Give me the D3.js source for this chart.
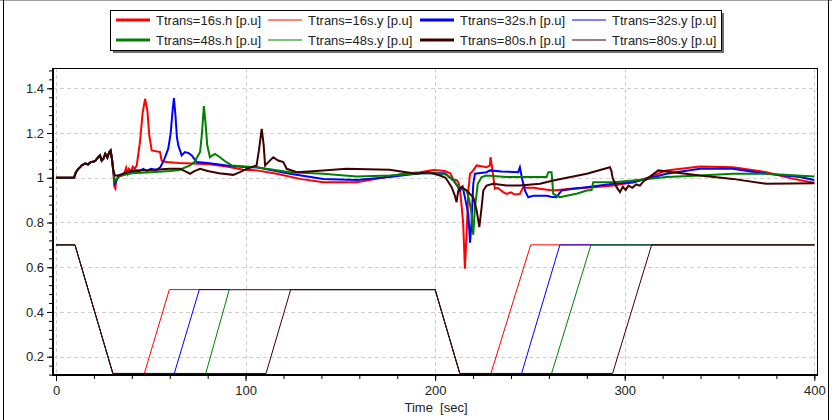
<!DOCTYPE html>
<html>
<head>
<meta charset="utf-8">
<script src="https://cdn.jsdelivr.net/npm/d3@7"></script>
<style>
  html, body { margin: 0; padding: 0; background: #ffffff; }
  svg { display: block; }
  text { font-family: "Liberation Sans", Arial, sans-serif; fill: #222; }
</style>
</head>
<body>
<div id="chart"></div>
<script>
// ---- data -------------------------------------------------------------
const xTicks = [0, 100, 200, 300, 400];
const yTicks = [0.2, 0.4, 0.6, 0.8, 1.0, 1.2, 1.4];

const seriesNames = [
  "Ttrans=16s.h [p.u]", "Ttrans=16s.y [p.u]", "Ttrans=32s.h [p.u]", "Ttrans=32s.y [p.u]",
  "Ttrans=48s.h [p.u]", "Ttrans=48s.y [p.u]", "Ttrans=80s.h [p.u]", "Ttrans=80s.y [p.u]"
];
const seriesColors = ["#ff0000", "#ff0000", "#0000ff", "#0000ff", "#008000", "#008000", "#400000", "#400000"];

// head (h) common to every case until the first transition
const hStart = [
  [0, 1.0], [9.5, 1.0], [10.5, 1.025], [11.8, 1.04], [13.5, 1.055], [15.3, 1.063], [17, 1.06],
  [18.3, 1.07], [20.6, 1.074], [22.3, 1.092], [23.2, 1.10], [24.1, 1.077], [25, 1.085],
  [26, 1.107], [27.1, 1.09], [28.1, 1.115], [28.8, 1.122], [29.5, 1.085], [30.2, 1.033]
];

const h16 = [
  [30.8, 0.96], [31.3, 0.952], [31.8, 0.99], [33, 1.005], [35, 1.01], [36, 1.02], [37, 1.045],
  [37.8, 1.02], [38.5, 1.04], [39.5, 1.028], [40.5, 1.05], [41.5, 1.04], [42.6, 1.055],
  [44.3, 1.16], [45.7, 1.29], [47, 1.353], [48.2, 1.30], [49.2, 1.19], [50.5, 1.122],
  [54.9, 1.115], [55.7, 1.077], [58, 1.07], [65, 1.066], [75, 1.063], [81, 1.06], [90, 1.05],
  [98.8, 1.036], [105.8, 1.033], [116.4, 1.018], [128.7, 0.995], [141, 0.98], [158.6, 0.98],
  [169, 0.995], [183, 1.018], [192, 1.025], [199, 1.035], [202.5, 1.033], [205, 1.03],
  [208, 1.02], [209.6, 0.99], [211.3, 0.99], [212.2, 0.98], [213, 0.958], [214, 0.87],
  [214.8, 0.794], [215.7, 0.593], [216.6, 0.75], [217.5, 0.943], [218.4, 1.018], [220.1, 1.033],
  [221.9, 1.055], [225, 1.05], [227.1, 1.047], [228.9, 1.055], [229.2, 1.092], [229.8, 1.06],
  [231.5, 0.951], [233, 0.955], [235.9, 0.936], [237.7, 0.928], [240, 0.935], [242, 0.925],
  [244.7, 0.928], [246.5, 0.958], [248.3, 0.955], [252, 0.955], [256, 0.95], [262.3, 0.943],
  [271.1, 0.951], [283.4, 0.958], [294, 0.965], [304.5, 0.98], [312, 1.0], [322, 1.033],
  [339.7, 1.05], [357.2, 1.047], [374.8, 1.025], [388.9, 0.995], [400, 0.978]
];

const h32 = [
  [31, 0.975], [31.8, 0.985], [33, 1.01], [36, 1.015], [40, 1.025], [44, 1.03], [46, 1.04],
  [48, 1.03], [50, 1.04], [53, 1.035], [55, 1.047], [57, 1.08], [59.2, 1.13], [60.5, 1.2],
  [61.5, 1.3], [62.2, 1.356], [63, 1.28], [63.8, 1.18], [64.5, 1.145], [65.5, 1.12],
  [66.3, 1.1], [68, 1.115], [70, 1.11], [71.6, 1.10], [74.2, 1.07], [80, 1.066], [90, 1.055],
  [100.6, 1.047], [105.8, 1.047], [123.4, 1.018], [141, 0.995], [158.6, 0.99], [176, 1.003],
  [192, 1.02], [200, 1.02], [205, 1.02], [209.6, 0.988], [212, 0.96], [213, 0.943],
  [214.5, 0.96], [216, 0.9], [217.5, 0.839], [218.4, 0.71], [219.2, 0.80], [220.1, 0.973],
  [221, 1.018], [227.1, 1.025], [228.9, 1.033], [235, 1.028], [243.8, 1.025], [244.7, 1.047],
  [246, 0.99], [247.5, 0.94], [249.1, 0.913], [252, 0.92], [258.8, 0.92], [261, 0.915],
  [264, 0.913], [266.7, 0.943], [272, 0.95], [279.9, 0.958], [294, 0.973], [304.5, 0.98],
  [322, 1.018], [339.7, 1.04], [357, 1.04], [374.8, 1.018], [392.4, 1.003], [400, 0.99]
];

const h48 = [
  [31, 0.985], [32, 0.995], [34, 1.01], [40, 1.02], [50, 1.025], [60, 1.03], [65, 1.035],
  [70.7, 1.055], [73, 1.07], [76, 1.115], [77, 1.2], [78, 1.32], [78.8, 1.25], [79.8, 1.145],
  [81.2, 1.092], [82.5, 1.1], [83.9, 1.107], [86.5, 1.092], [89, 1.075], [92.7, 1.055],
  [100, 1.05], [105.8, 1.047], [123.4, 1.025], [141, 1.018], [158.6, 1.006], [176, 1.01],
  [192, 1.02], [200, 1.02], [206, 1.015], [210, 0.985], [213, 0.951], [216.6, 0.943],
  [218, 0.9], [219.2, 0.839], [220.1, 0.745], [221, 0.868], [222.5, 0.973], [224.5, 1.003],
  [227, 1.01], [237.7, 1.003], [255.3, 1.003], [258.8, 1.003], [259.7, 1.025], [261.4, 1.025],
  [262.3, 0.928], [265.8, 0.913], [269.4, 0.92], [275, 0.93], [280, 0.943], [282.5, 0.945],
  [283.4, 0.98], [294, 0.98], [304.5, 0.988], [322, 1.003], [339.7, 1.01], [357, 1.018],
  [374.8, 1.018], [400, 1.006]
];

const h80 = [
  [31.1, 1.01], [33, 1.01], [36, 1.02], [40.8, 1.033], [50, 1.035], [60, 1.04], [65.4, 1.04],
  [68, 1.03], [70.7, 1.018], [73, 1.03], [76, 1.04], [80, 1.03], [86, 1.02], [93.5, 1.013],
  [97, 1.025], [100.6, 1.04], [105.8, 1.055], [107, 1.12], [108.5, 1.219], [109.5, 1.15],
  [110.3, 1.055], [112, 1.07], [114.6, 1.092], [117.2, 1.077], [119.9, 1.07], [121.7, 1.04],
  [127, 1.025], [141, 1.033], [153, 1.04], [176, 1.036], [190, 1.018], [197, 1.025],
  [202.5, 1.01], [205.5, 1.0], [208.7, 0.958], [210.4, 0.92], [211.3, 0.891], [212.2, 0.943],
  [213.9, 0.958], [216.6, 0.943], [220.1, 0.913], [221.9, 0.854], [223.3, 0.779],
  [224.5, 0.868], [225.4, 0.943], [227.1, 0.965], [230.6, 0.973], [237.7, 0.965],
  [244.7, 0.965], [255.3, 0.973], [262.3, 0.988], [280, 1.018], [292.2, 1.047], [293, 1.03],
  [293.6, 1.0], [295.7, 0.958], [297.5, 0.936], [299, 0.96], [300.5, 0.945], [302, 0.965],
  [304, 0.955], [306, 0.97], [308, 0.965], [310, 0.985], [313, 1.003], [317.7, 1.033],
  [325.6, 1.025], [339.7, 1.01], [357, 0.995], [374.8, 0.973], [400, 0.976]
];

// gate opening (y) breakpoints
const y16 = [[0, 0.7], [10, 0.7], [30, 0.125], [46.6, 0.125], [59.8, 0.5], [200, 0.5], [213, 0.125], [229.4, 0.125], [250.4, 0.7], [400, 0.7]];
const y32 = [[0, 0.7], [10, 0.7], [30, 0.125], [62.4, 0.125], [75.6, 0.5], [200, 0.5], [213, 0.125], [245.6, 0.125], [265.8, 0.7], [400, 0.7]];
const y48 = [[0, 0.7], [10, 0.7], [30, 0.125], [79, 0.125], [91.4, 0.5], [200, 0.5], [213, 0.125], [261.4, 0.125], [282.2, 0.7], [400, 0.7]];
const y80 = [[0, 0.7], [10, 0.7], [30, 0.125], [110.8, 0.125], [123.8, 0.5], [200, 0.5], [213, 0.125], [293.6, 0.125], [314.2, 0.7], [400, 0.7]];

const seriesData = [
  hStart.concat(h16), y16,
  hStart.concat(h32), y32,
  hStart.concat(h48), y48,
  hStart.concat(h80), y80
];

// ---- layout -----------------------------------------------------------
const W = 832, H = 420;
const plot = { left: 53, right: 817, top: 68, bottom: 375 };

const svg = d3.select("#chart").append("svg")
  .attr("width", W).attr("height", H);

// outer frame
svg.append("line").attr("x1", 0).attr("x2", W).attr("y1", 0.5).attr("y2", 0.5)
  .attr("stroke", "#a0a0a0");
svg.append("line").attr("x1", 3.5).attr("x2", 3.5).attr("y1", 0).attr("y2", H)
  .attr("stroke", "#000");
svg.append("line").attr("x1", 828.5).attr("x2", 828.5).attr("y1", 0).attr("y2", H)
  .attr("stroke", "#000");

const x = d3.scaleLinear().domain([0, 400]).range([56, 814.3]);
const y = d3.scaleLinear().domain([0.2, 1.4]).range([356.7, 88.3]);

// grid
const grid = svg.append("g").attr("stroke", "#cfcfcf").attr("stroke-dasharray", "4,3");
grid.selectAll("line.v").data(xTicks).join("line")
  .attr("x1", d => Math.round(x(d)) + 0.5).attr("x2", d => Math.round(x(d)) + 0.5)
  .attr("y1", plot.top).attr("y2", plot.bottom);
grid.selectAll("line.h").data(yTicks).join("line")
  .attr("x1", plot.left).attr("x2", plot.right)
  .attr("y1", d => Math.round(y(d)) + 0.5).attr("y2", d => Math.round(y(d)) + 0.5);

// clip
svg.append("defs").append("clipPath").attr("id", "plotClip")
  .append("rect").attr("x", plot.left + 1).attr("y", plot.top + 1)
  .attr("width", plot.right - plot.left - 1).attr("height", plot.bottom - plot.top - 1);

const line = d3.line().x(d => x(d[0])).y(d => y(d[1]));
const lines = svg.append("g").attr("clip-path", "url(#plotClip)");
seriesData.forEach((data, i) => {
  const thick = i % 2 === 0;
  lines.append("path")
    .attr("d", line(data))
    .attr("fill", "none")
    .attr("stroke", seriesColors[i])
    .attr("stroke-width", thick ? 2 : 1)
    .attr("stroke-linejoin", "miter");
});

// plot border (top and right)
svg.append("line").attr("x1", plot.left).attr("x2", plot.right + 0.5)
  .attr("y1", plot.top + 0.5).attr("y2", plot.top + 0.5).attr("stroke", "#000");
svg.append("line").attr("x1", plot.right + 0.5).attr("x2", plot.right + 0.5)
  .attr("y1", plot.top).attr("y2", plot.bottom).attr("stroke", "#000");

// axes
const fmtY = d => (Math.abs(d - 1) < 1e-9 ? "1" : d3.format(".1f")(d));

const xMinor = d3.range(0, 401, 20);
const yMinor = d3.range(0, 35).map(i => +(0.12 + i * 0.04).toFixed(2)).filter(v => v <= 1.49);

const gxMinor = svg.append("g").attr("transform", `translate(0,${plot.bottom + 1})`)
  .call(d3.axisBottom(x).tickValues(xMinor).tickSize(3).tickFormat(""));
const gx = svg.append("g").attr("transform", `translate(0,${plot.bottom + 1})`)
  .call(d3.axisBottom(x).tickValues(xTicks).tickSize(5).tickPadding(5));
const gyMinor = svg.append("g").attr("transform", `translate(${plot.left - 1},0)`)
  .call(d3.axisLeft(y).tickValues(yMinor).tickSize(3).tickFormat(""));
const gy = svg.append("g").attr("transform", `translate(${plot.left - 1},0)`)
  .call(d3.axisLeft(y).tickValues(yTicks).tickSize(5).tickPadding(3).tickFormat(fmtY));

[gxMinor, gx, gyMinor, gy].forEach(g => {
  g.select(".domain").remove();
  g.selectAll(".tick line").attr("stroke", "#000");
  g.selectAll("text").style("font-size", "13px").attr("fill", "#222");
});

// axis lines
svg.append("line").attr("x1", plot.left).attr("x2", plot.left)
  .attr("y1", plot.top).attr("y2", plot.bottom + 1).attr("stroke", "#000").attr("stroke-width", 2);
svg.append("line").attr("x1", plot.left - 1).attr("x2", plot.right + 1)
  .attr("y1", plot.bottom).attr("y2", plot.bottom).attr("stroke", "#000").attr("stroke-width", 2);

svg.append("text")
  .attr("x", (plot.left + plot.right) / 2 + 1).attr("y", 412)
  .attr("text-anchor", "middle")
  .style("font-size", "13px")
  .attr("xml:space", "preserve")
  .text("Time  [sec]");

// legend
const lg = { x: 110, y: 10, w: 611, h: 40 };
svg.append("rect").attr("x", lg.x + 3).attr("y", lg.y + 3).attr("width", lg.w).attr("height", lg.h)
  .attr("fill", "#6e6e6e");
svg.append("rect").attr("x", lg.x + 0.5).attr("y", lg.y + 0.5).attr("width", lg.w).attr("height", lg.h)
  .attr("fill", "#fff").attr("stroke", "#000");

const legend = svg.append("g");
seriesNames.forEach((name, i) => {
  const col = i % 4, row = Math.floor(i / 4);
  const ex = lg.x + 6 + col * 152;
  const ey = lg.y + 10 + row * 20;
  legend.append("line")
    .attr("x1", ex).attr("x2", ex + 34).attr("y1", ey).attr("y2", ey)
    .attr("stroke", seriesColors[i]).attr("stroke-width", i % 2 === 0 ? 3 : 1);
  legend.append("text")
    .attr("x", ex + 40).attr("y", ey).attr("dy", "0.35em")
    .style("font-size", "13px")
    .text(name);
});
</script>
</body>
</html>
